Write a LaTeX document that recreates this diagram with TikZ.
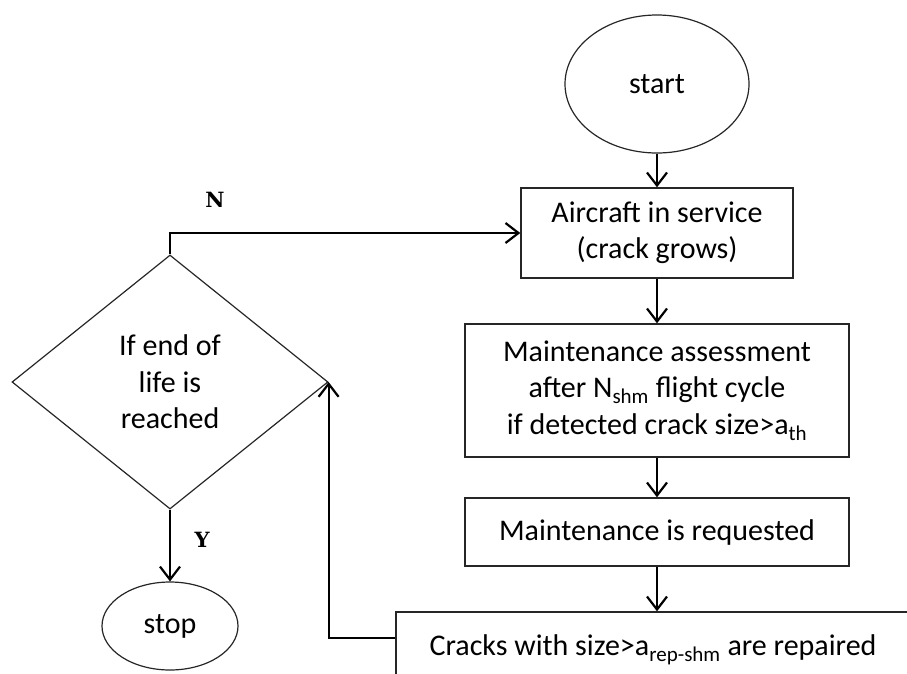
\documentclass[tikz,border=0pt]{standalone}
\usepackage{fontspec}
\setmainfont{Carlito}
\newfontfamily\ynfont{DejaVu Serif}
\usetikzlibrary{shapes.geometric,arrows.meta}
\begin{document}
\begin{tikzpicture}[x=1pt,y=-1pt,
  txt/.style={font=\fontsize{30}{36.5}\selectfont, align=center, inner sep=0pt},
  boxnode/.style={txt, draw=black!85, line width=1.4pt},
  shapenode/.style={txt, draw=black!85, line width=1.2pt},
  conn/.style={line width=2.2pt, -{Straight Barb[length=13pt,width=20pt,line width=2.2pt]}},
  yn/.style={font=\ynfont\bfseries\fontsize{21}{21}\selectfont, inner sep=0pt}]
\useasboundingbox (0,0) rectangle (907,673);
\clip (0,0) rectangle (907,673);
\node[shapenode, ellipse, minimum width=184, minimum height=138] (start) at (657,84) {start};
\node[boxnode, minimum width=272, minimum height=90] (svc) at (657,233) {Aircraft in service\\(crack grows)};
\node[boxnode, minimum width=384, minimum height=133] (assess) at (657,390.5) {Maintenance assessment\\after N\textsubscript{shm} flight cycle\\if detected crack size>a\textsubscript{th}};
\node[boxnode, minimum width=384, minimum height=68] (req) at (657,532) {Maintenance is requested};
\node[boxnode, minimum width=514, minimum height=76] (rep) at (653,650) {Cracks with size>a\textsubscript{rep-shm} are repaired};
\node[shapenode, diamond, aspect=1.244, minimum width=316, minimum height=254] (dec) at (170,382) {If end of\\life is\\reached};
\node[shapenode, ellipse, minimum width=136, minimum height=88] (stop) at (170,626) {stop};
\node[yn] (nlab) at (215,200) {N};
\node[yn] (ylab) at (202,540) {Y};
\draw[conn] (start) -- (svc);
\draw[conn] (svc) -- (assess);
\draw[conn] (assess) -- (req);
\draw[conn] (req.south) -- (req.south |- rep.north);
\draw[conn] (dec) -- (stop);
\draw[conn] (dec.north) |- (svc.west);
\draw[conn] ([yshift=12pt]rep.west) -| (dec.east);
\end{tikzpicture}
\end{document}
